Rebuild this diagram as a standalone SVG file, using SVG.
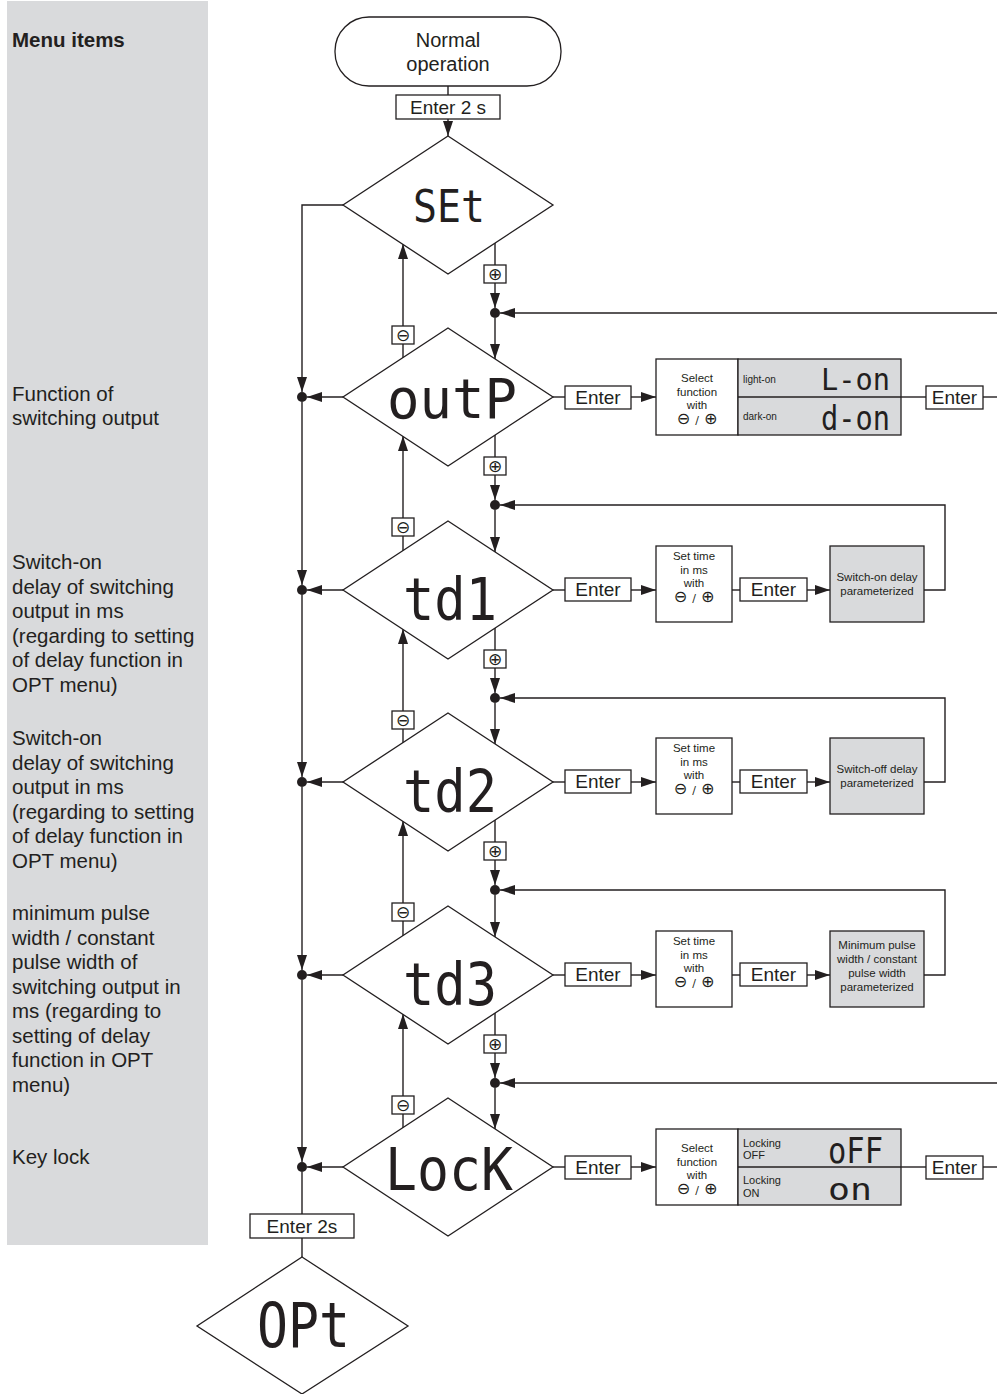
<svg xmlns="http://www.w3.org/2000/svg" width="997" height="1394" viewBox="0 0 997 1394">
<style>
.ln{stroke:#231f20;stroke-width:1.4;fill:none}
.bx{stroke:#231f20;stroke-width:1.3;fill:#fff}
.gb{stroke:#231f20;stroke-width:1.3;fill:#d9dadc}
.t{font-family:"Liberation Sans",Arial,sans-serif;fill:#231f20}
.lt{font-size:20.5px}
.en{font-size:19px;text-anchor:middle}
.sm{font-size:11.5px;text-anchor:middle}
.sym{font-family:"DejaVu Sans",sans-serif;fill:#231f20;text-anchor:middle}
.seg{font-family:"DejaVu Sans Mono",monospace;fill:#231f20}
</style>
<defs>
<marker id="ar" viewBox="0 0 15 10" refX="15" refY="5" markerWidth="15" markerHeight="10" markerUnits="userSpaceOnUse" orient="auto">
<path d="M0,0 L15,5 L0,10 z" fill="#231f20"/>
</marker>
</defs>
<rect x="7" y="1" width="201" height="1244" fill="#d9dadc"/>
<g id="labels">
<text class="t" x="12" y="47" font-size="20.5" font-weight="bold">Menu items</text>
<text class="t lt" x="12" y="401">Function of</text>
<text class="t lt" x="12" y="425">switching output</text>
<text class="t lt" x="12" y="569">Switch-on</text>
<text class="t lt" x="12" y="594">delay of switching</text>
<text class="t lt" x="12" y="618">output in ms</text>
<text class="t lt" x="12" y="643">(regarding to setting</text>
<text class="t lt" x="12" y="667">of delay function in</text>
<text class="t lt" x="12" y="692">OPT menu)</text>
<text class="t lt" x="12" y="745">Switch-on</text>
<text class="t lt" x="12" y="770">delay of switching</text>
<text class="t lt" x="12" y="794">output in ms</text>
<text class="t lt" x="12" y="819">(regarding to setting</text>
<text class="t lt" x="12" y="843">of delay function in</text>
<text class="t lt" x="12" y="868">OPT menu)</text>
<text class="t lt" x="12" y="920">minimum pulse</text>
<text class="t lt" x="12" y="945">width / constant</text>
<text class="t lt" x="12" y="969">pulse width of</text>
<text class="t lt" x="12" y="994">switching output in</text>
<text class="t lt" x="12" y="1018">ms (regarding to</text>
<text class="t lt" x="12" y="1043">setting of delay</text>
<text class="t lt" x="12" y="1067">function in OPT</text>
<text class="t lt" x="12" y="1092">menu)</text>
<text class="t lt" x="12" y="1164">Key lock</text>
</g>
<g id="connectors">
<line class="ln" x1="448" y1="86" x2="448" y2="95"/>
<line class="ln" x1="448" y1="119" x2="448" y2="136" marker-end="url(#ar)"/>
<polyline class="ln" points="343,205 302,205 302,392" marker-end="url(#ar)"/>
<line class="ln" x1="302" y1="402" x2="302" y2="585" marker-end="url(#ar)"/>
<line class="ln" x1="302" y1="595" x2="302" y2="777" marker-end="url(#ar)"/>
<line class="ln" x1="302" y1="787" x2="302" y2="970" marker-end="url(#ar)"/>
<line class="ln" x1="302" y1="980" x2="302" y2="1162" marker-end="url(#ar)"/>
<line class="ln" x1="302" y1="1172" x2="302" y2="1214"/>
<line class="ln" x1="302" y1="1238" x2="302" y2="1257"/>
<line class="ln" x1="343" y1="397" x2="307" y2="397" marker-end="url(#ar)"/>
<line class="ln" x1="343" y1="590" x2="307" y2="590" marker-end="url(#ar)"/>
<line class="ln" x1="343" y1="782" x2="307" y2="782" marker-end="url(#ar)"/>
<line class="ln" x1="343" y1="975" x2="307" y2="975" marker-end="url(#ar)"/>
<line class="ln" x1="343" y1="1167" x2="307" y2="1167" marker-end="url(#ar)"/>
<g fill="#231f20">
<circle cx="302" cy="397" r="5"/><circle cx="302" cy="590" r="5"/><circle cx="302" cy="782" r="5"/><circle cx="302" cy="975" r="5"/><circle cx="302" cy="1167" r="5"/>
<circle cx="495" cy="313" r="5"/><circle cx="495" cy="505" r="5"/><circle cx="495" cy="698" r="5"/><circle cx="495" cy="890" r="5"/><circle cx="495" cy="1083" r="5"/>
</g>
<line class="ln" x1="403" y1="358" x2="403" y2="244" marker-end="url(#ar)"/>
<line class="ln" x1="403" y1="551" x2="403" y2="436" marker-end="url(#ar)"/>
<line class="ln" x1="403" y1="743" x2="403" y2="629" marker-end="url(#ar)"/>
<line class="ln" x1="403" y1="936" x2="403" y2="821" marker-end="url(#ar)"/>
<line class="ln" x1="403" y1="1128" x2="403" y2="1014" marker-end="url(#ar)"/>
<line class="ln" x1="495" y1="243" x2="495" y2="265"/>
<line class="ln" x1="495" y1="283" x2="495" y2="308" marker-end="url(#ar)"/>
<line class="ln" x1="495" y1="318" x2="495" y2="359" marker-end="url(#ar)"/>
<line class="ln" x1="495" y1="435" x2="495" y2="457"/>
<line class="ln" x1="495" y1="475" x2="495" y2="500" marker-end="url(#ar)"/>
<line class="ln" x1="495" y1="510" x2="495" y2="552" marker-end="url(#ar)"/>
<line class="ln" x1="495" y1="628" x2="495" y2="650"/>
<line class="ln" x1="495" y1="668" x2="495" y2="693" marker-end="url(#ar)"/>
<line class="ln" x1="495" y1="703" x2="495" y2="744" marker-end="url(#ar)"/>
<line class="ln" x1="495" y1="820" x2="495" y2="842"/>
<line class="ln" x1="495" y1="860" x2="495" y2="885" marker-end="url(#ar)"/>
<line class="ln" x1="495" y1="895" x2="495" y2="937" marker-end="url(#ar)"/>
<line class="ln" x1="495" y1="1013" x2="495" y2="1035"/>
<line class="ln" x1="495" y1="1053" x2="495" y2="1078" marker-end="url(#ar)"/>
<line class="ln" x1="495" y1="1088" x2="495" y2="1129" marker-end="url(#ar)"/>
<line class="ln" x1="997" y1="313" x2="500" y2="313" marker-end="url(#ar)"/>
<line class="ln" x1="997" y1="1083" x2="500" y2="1083" marker-end="url(#ar)"/>
<polyline class="ln" points="924,590 945,590 945,505 500,505" marker-end="url(#ar)"/>
<polyline class="ln" points="924,782 945,782 945,698 500,698" marker-end="url(#ar)"/>
<polyline class="ln" points="924,975 945,975 945,890 500,890" marker-end="url(#ar)"/>
<line class="ln" x1="553" y1="397" x2="565" y2="397"/>
<line class="ln" x1="631" y1="397" x2="656" y2="397" marker-end="url(#ar)"/>
<line class="ln" x1="901" y1="397" x2="926" y2="397"/>
<line class="ln" x1="983" y1="397" x2="997" y2="397"/>
<line class="ln" x1="553" y1="1167" x2="565" y2="1167"/>
<line class="ln" x1="631" y1="1167" x2="656" y2="1167" marker-end="url(#ar)"/>
<line class="ln" x1="901" y1="1167" x2="926" y2="1167"/>
<line class="ln" x1="983" y1="1167" x2="997" y2="1167"/>
<line class="ln" x1="553" y1="590" x2="565" y2="590"/>
<line class="ln" x1="631" y1="590" x2="656" y2="590" marker-end="url(#ar)"/>
<line class="ln" x1="732" y1="590" x2="740" y2="590"/>
<line class="ln" x1="807" y1="590" x2="830" y2="590" marker-end="url(#ar)"/>
<line class="ln" x1="553" y1="782" x2="565" y2="782"/>
<line class="ln" x1="631" y1="782" x2="656" y2="782" marker-end="url(#ar)"/>
<line class="ln" x1="732" y1="782" x2="740" y2="782"/>
<line class="ln" x1="807" y1="782" x2="830" y2="782" marker-end="url(#ar)"/>
<line class="ln" x1="553" y1="975" x2="565" y2="975"/>
<line class="ln" x1="631" y1="975" x2="656" y2="975" marker-end="url(#ar)"/>
<line class="ln" x1="732" y1="975" x2="740" y2="975"/>
<line class="ln" x1="807" y1="975" x2="830" y2="975" marker-end="url(#ar)"/>
</g>
<g id="keys">
<g><rect class="bx" x="396" y="95" width="104" height="24"/><text class="t en" x="448" y="114">Enter 2 s</text></g>
<g><rect class="bx" x="250" y="1214" width="104" height="24"/><text class="t en" x="302" y="1233">Enter 2s</text></g>
<g id="plus1"><rect class="bx" x="484" y="265" width="22" height="18"/><text class="sym" x="495" y="280" font-size="17">⊕</text></g>
<g id="plus2"><rect class="bx" x="484" y="457" width="22" height="18"/><text class="sym" x="495" y="472" font-size="17">⊕</text></g>
<g id="plus3"><rect class="bx" x="484" y="650" width="22" height="18"/><text class="sym" x="495" y="665" font-size="17">⊕</text></g>
<g id="plus4"><rect class="bx" x="484" y="842" width="22" height="18"/><text class="sym" x="495" y="857" font-size="17">⊕</text></g>
<g id="plus5"><rect class="bx" x="484" y="1035" width="22" height="18"/><text class="sym" x="495" y="1050" font-size="17">⊕</text></g>
<g id="minus1"><rect class="bx" x="392" y="326" width="22" height="18"/><text class="sym" x="403" y="341" font-size="17">⊖</text></g>
<g id="minus2"><rect class="bx" x="392" y="518" width="22" height="18"/><text class="sym" x="403" y="533" font-size="17">⊖</text></g>
<g id="minus3"><rect class="bx" x="392" y="711" width="22" height="18"/><text class="sym" x="403" y="726" font-size="17">⊖</text></g>
<g id="minus4"><rect class="bx" x="392" y="903" width="22" height="18"/><text class="sym" x="403" y="918" font-size="17">⊖</text></g>
<g id="minus5"><rect class="bx" x="392" y="1096" width="22" height="18"/><text class="sym" x="403" y="1111" font-size="17">⊖</text></g>
</g>
<g id="normal">
<rect class="bx" x="335" y="17" width="226" height="69" rx="34" ry="34"/>
<text class="t" x="448" y="47" font-size="20" text-anchor="middle">Normal</text>
<text class="t" x="448" y="71" font-size="20" text-anchor="middle">operation</text>
</g>
<g id="set">
<polygon class="bx" points="448,136 553,205 448,274 343,205"/>
<text class="seg" x="413" y="222" font-size="45" textLength="72" lengthAdjust="spacingAndGlyphs">SEt</text>
</g>
<g id="outp">
<polygon class="bx" points="448,328 553,397 448,466 343,397"/>
<text class="seg" x="387" y="418" font-size="55" textLength="130" lengthAdjust="spacingAndGlyphs">outP</text>
</g>
<g id="td1">
<polygon class="bx" points="448,521 553,590 448,659 343,590"/>
<text class="seg" x="403" y="620" font-size="58" textLength="94" lengthAdjust="spacingAndGlyphs">td1</text>
</g>
<g id="td2">
<polygon class="bx" points="448,713 553,782 448,851 343,782"/>
<text class="seg" x="403" y="812" font-size="58" textLength="94" lengthAdjust="spacingAndGlyphs">td2</text>
</g>
<g id="td3">
<polygon class="bx" points="448,906 553,975 448,1044 343,975"/>
<text class="seg" x="403" y="1005" font-size="58" textLength="94" lengthAdjust="spacingAndGlyphs">td3</text>
</g>
<g id="lock">
<polygon class="bx" points="448,1098 553,1167 448,1236 343,1167"/>
<text class="seg" x="385" y="1190" font-size="58" textLength="128" lengthAdjust="spacingAndGlyphs">LocK</text>
</g>
<g id="opt">
<polygon class="bx" points="302,1257 408,1326 302,1394 197,1326"/>
<text class="seg" x="257" y="1347" font-size="62" textLength="93" lengthAdjust="spacingAndGlyphs">OPt</text>
</g>
<g id="outp-enter"><rect class="bx" x="565" y="386" width="66" height="23"/><text class="t en" x="598" y="404">Enter</text></g>
<g id="outp-select">
<rect class="bx" x="656" y="359" width="82" height="76"/>
<text class="t sm" x="697" y="382">Select</text>
<text class="t sm" x="697" y="396">function</text>
<text class="t sm" x="697" y="409">with</text>
<text class="sym" x="697" y="424" font-size="16">⊖ <tspan font-size="11">/</tspan> ⊕</text>
</g>
<g id="outp-options">
<rect class="gb" x="738" y="359" width="163" height="76"/>
<line class="ln" x1="738" y1="397" x2="901" y2="397"/>
<text class="t" x="743" y="383" font-size="10">light-on</text>
<text class="t" x="743" y="420" font-size="10">dark-on</text>
<text class="seg" x="821" y="390" font-size="31" textLength="69" lengthAdjust="spacingAndGlyphs">L-on</text>
<text class="seg" x="821" y="430" font-size="33" textLength="69" lengthAdjust="spacingAndGlyphs">d-on</text>
</g>
<g id="outp-enter2"><rect class="bx" x="926" y="386" width="57" height="23"/><text class="t en" x="954.5" y="404">Enter</text></g>
<g id="td1-enter"><rect class="bx" x="565" y="578" width="66" height="23"/><text class="t en" x="598" y="596">Enter</text></g>
<g id="td1-set">
<rect class="bx" x="656" y="546" width="76" height="76"/>
<text class="t sm" x="694" y="560">Set time</text>
<text class="t sm" x="694" y="574">in ms</text>
<text class="t sm" x="694" y="587">with</text>
<text class="sym" x="694" y="602" font-size="16">⊖ <tspan font-size="11">/</tspan> ⊕</text>
</g>
<g id="td1-enter2"><rect class="bx" x="740" y="578" width="67" height="23"/><text class="t en" x="773.5" y="596">Enter</text></g>
<g id="td1-result">
<rect class="gb" x="830" y="546" width="94" height="76"/>
<text class="t sm" x="877" y="581">Switch-on delay</text>
<text class="t sm" x="877" y="595">parameterized</text>
</g>
<g id="td2-enter"><rect class="bx" x="565" y="770" width="66" height="23"/><text class="t en" x="598" y="788">Enter</text></g>
<g id="td2-set">
<rect class="bx" x="656" y="738" width="76" height="76"/>
<text class="t sm" x="694" y="752">Set time</text>
<text class="t sm" x="694" y="766">in ms</text>
<text class="t sm" x="694" y="779">with</text>
<text class="sym" x="694" y="794" font-size="16">⊖ <tspan font-size="11">/</tspan> ⊕</text>
</g>
<g id="td2-enter2"><rect class="bx" x="740" y="770" width="67" height="23"/><text class="t en" x="773.5" y="788">Enter</text></g>
<g id="td2-result">
<rect class="gb" x="830" y="738" width="94" height="76"/>
<text class="t sm" x="877" y="773">Switch-off delay</text>
<text class="t sm" x="877" y="787">parameterized</text>
</g>
<g id="td3-enter"><rect class="bx" x="565" y="963" width="66" height="23"/><text class="t en" x="598" y="981">Enter</text></g>
<g id="td3-set">
<rect class="bx" x="656" y="931" width="76" height="76"/>
<text class="t sm" x="694" y="945">Set time</text>
<text class="t sm" x="694" y="959">in ms</text>
<text class="t sm" x="694" y="972">with</text>
<text class="sym" x="694" y="987" font-size="16">⊖ <tspan font-size="11">/</tspan> ⊕</text>
</g>
<g id="td3-enter2"><rect class="bx" x="740" y="963" width="67" height="23"/><text class="t en" x="773.5" y="981">Enter</text></g>
<g id="td3-result">
<rect class="gb" x="830" y="931" width="94" height="76"/>
<text class="t sm" x="877" y="949">Minimum pulse</text>
<text class="t sm" x="877" y="963">width / constant</text>
<text class="t sm" x="877" y="977">pulse width</text>
<text class="t sm" x="877" y="991">parameterized</text>
</g>
<g id="lock-enter"><rect class="bx" x="565" y="1156" width="66" height="23"/><text class="t en" x="598" y="1174">Enter</text></g>
<g id="lock-select">
<rect class="bx" x="656" y="1129" width="82" height="76"/>
<text class="t sm" x="697" y="1152">Select</text>
<text class="t sm" x="697" y="1166">function</text>
<text class="t sm" x="697" y="1179">with</text>
<text class="sym" x="697" y="1194" font-size="16">⊖ <tspan font-size="11">/</tspan> ⊕</text>
</g>
<g id="lock-options">
<rect class="gb" x="738" y="1129" width="163" height="76"/>
<line class="ln" x1="738" y1="1167" x2="901" y2="1167"/>
<text class="t" x="743" y="1147" font-size="11">Locking</text>
<text class="t" x="743" y="1159" font-size="11">OFF</text>
<text class="t" x="743" y="1184" font-size="11">Locking</text>
<text class="t" x="743" y="1197" font-size="11">ON</text>
<text class="seg" x="828" y="1163" font-size="35" textLength="55" lengthAdjust="spacingAndGlyphs">oFF</text>
<text class="seg" x="828" y="1200" font-size="30" textLength="44" lengthAdjust="spacingAndGlyphs">on</text>
</g>
<g id="lock-enter2"><rect class="bx" x="926" y="1156" width="57" height="23"/><text class="t en" x="954.5" y="1174">Enter</text></g>
</svg>
